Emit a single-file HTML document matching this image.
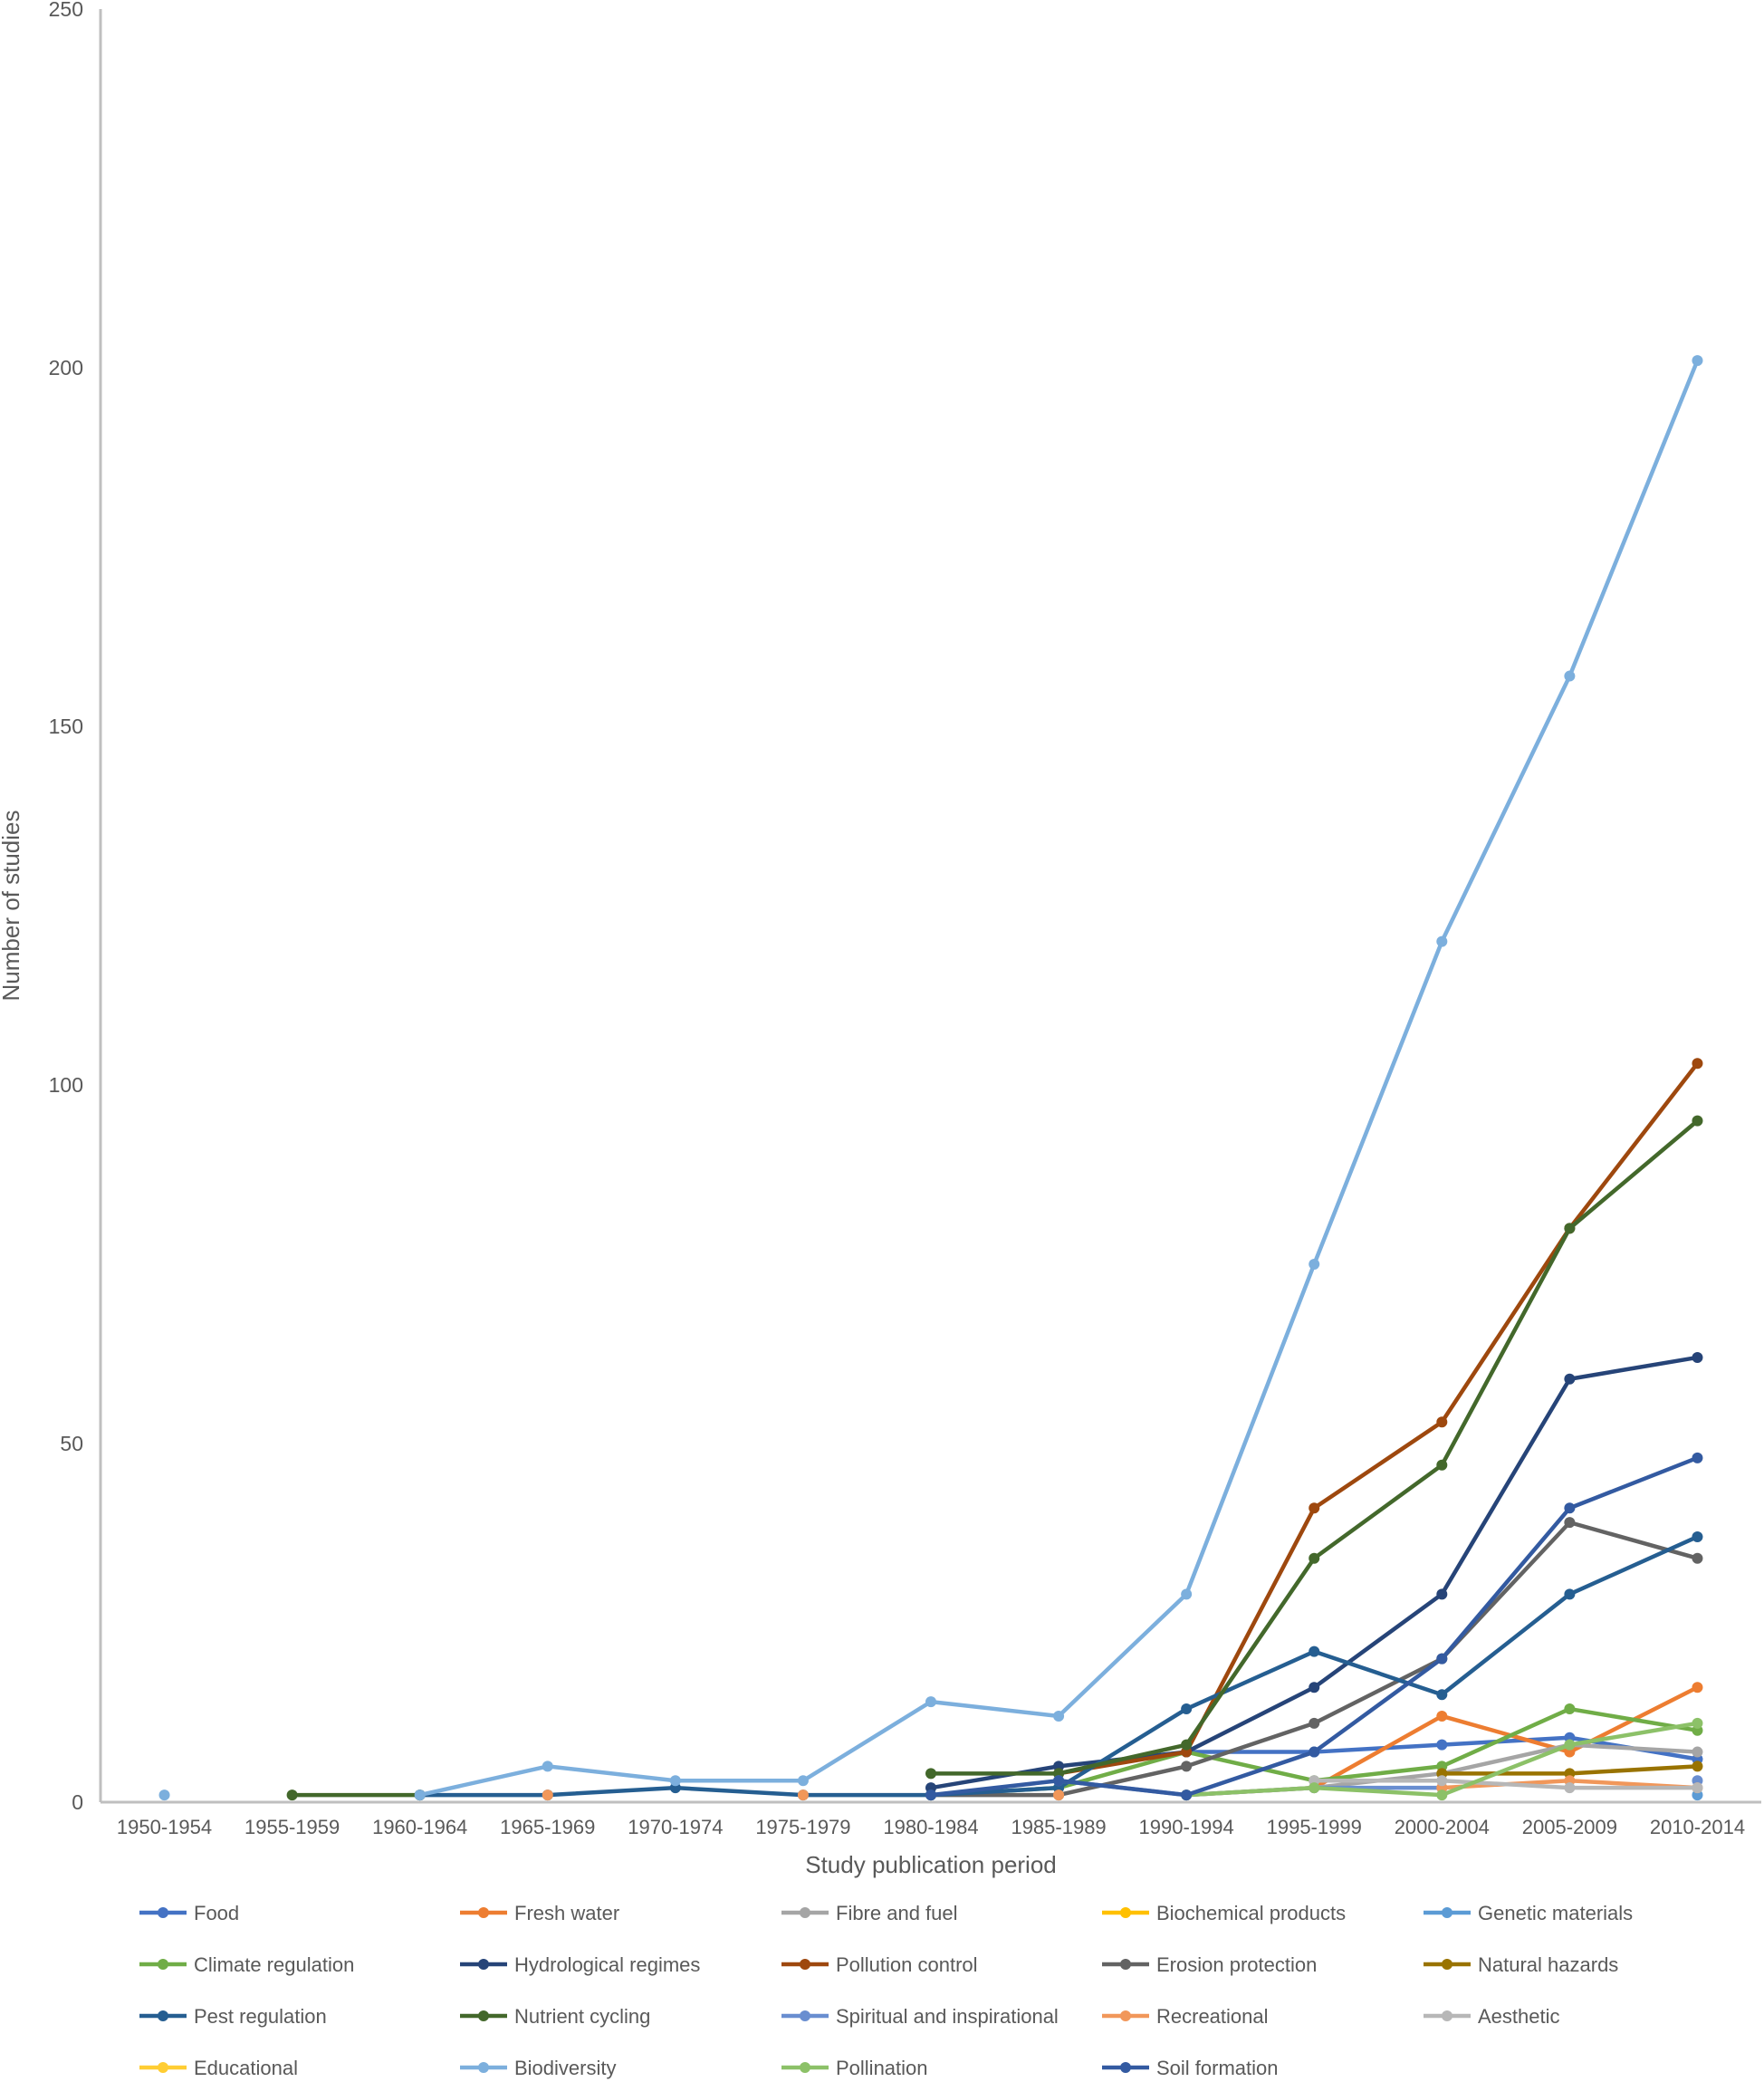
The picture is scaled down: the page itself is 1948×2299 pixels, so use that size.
<!DOCTYPE html>
<html><head><meta charset="utf-8"><style>
html,body{margin:0;padding:0;background:#fff;}
svg{display:block;font-family:"Liberation Sans",sans-serif;}
</style></head><body>
<svg id="chart" width="1948" height="2299" viewBox="0 0 1948 2299" xmlns="http://www.w3.org/2000/svg">
<rect width="1948" height="2299" fill="#fff"/>
<g id="axes"></g><g id="series"></g><g id="legend"></g>
</svg>
<script>
const categories = ["1950-1954","1955-1959","1960-1964","1965-1969","1970-1974","1975-1979","1980-1984","1985-1989","1990-1994","1995-1999","2000-2004","2005-2009","2010-2014"];
const yTicks = [0,50,100,150,200,250];
const N = null;
const food = [N,N,N,N,N,N,N,N,7,7,8,9,6];
const freshWater = [N,N,N,N,N,N,N,N,1,2,12,7,16];
const fibreFuel = [N,N,N,N,N,N,N,N,N,2,4,8,7];
const biochemical = [N,N,N,N,N,N,N,N,N,N,N,N,N];
const genetic = [N,N,N,N,N,N,N,N,N,N,N,N,1];
const climate = [N,N,N,N,N,N,1,2,7,3,5,13,10];
const hydro = [N,N,N,N,N,N,2,5,7,16,29,59,62];
const pollution = [N,N,N,N,N,N,N,4,7,41,53,80,103];
const erosion = [N,N,N,N,N,N,1,1,5,11,20,39,34];
const hazards = [N,N,N,N,N,N,N,N,N,N,4,4,5];
const pest = [N,N,1,1,2,1,1,2,13,21,15,29,37];
const nutrient = [N,1,1,N,N,N,4,4,8,34,47,80,95];
const spiritual = [N,N,N,N,N,N,N,3,1,2,2,N,3];
const recreational = [N,N,N,1,N,1,N,1,N,N,2,3,2];
const aesthetic = [N,N,N,N,N,N,N,N,N,3,3,2,2];
const educational = [N,N,N,N,N,N,N,N,N,N,N,N,N];
const biodiversity = [1,N,1,5,3,3,14,12,29,75,120,157,201];
const pollination = [N,N,N,N,N,N,N,N,1,2,1,8,11];
const soil = [N,N,N,N,N,N,1,3,1,7,20,41,48];
const seriesNames = ["Food","Fresh water","Fibre and fuel","Biochemical products","Genetic materials","Climate regulation","Hydrological regimes","Pollution control","Erosion protection","Natural hazards","Pest regulation","Nutrient cycling","Spiritual and inspirational","Recreational","Aesthetic","Educational","Biodiversity","Pollination","Soil formation"];
const seriesValues = [food,freshWater,fibreFuel,biochemical,genetic,climate,hydro,pollution,erosion,hazards,pest,nutrient,spiritual,recreational,aesthetic,educational,biodiversity,pollination,soil];
const colors = ["#4472C4","#ED7D31","#A5A5A5","#FFC000","#5B9BD5","#70AD47","#264478","#9E480E","#636363","#997300","#255E91","#43682B","#698ED0","#F1975A","#B7B7B7","#FFCD33","#7CAFDD","#8CC168","#335AA1"];

const NS="http://www.w3.org/2000/svg";
const X0=111, X1=1945, Y0=1990, YTOP=10, YMAX=250;
const step=(X1-X0)/categories.length;
function xPos(i){return X0+step*(i+0.5);}
function yPos(v){return Y0-(v/YMAX)*(Y0-YTOP);}
function mk(tag,attrs,parent){const e=document.createElementNS(NS,tag);for(const k in attrs)e.setAttribute(k,attrs[k]);parent.appendChild(e);return e;}
const axes=document.getElementById('axes');
const yAxis=mk('line',{x1:X0,y1:YTOP,x2:X0,y2:Y0,stroke:'#BFBFBF','stroke-width':3},axes);


const xAxis=mk('line',{x1:X0,y1:Y0,x2:X1,y2:Y0,stroke:'#BFBFBF','stroke-width':3},axes);


yTicks.forEach(t=>{
 const tx=mk('text',{x:92,y:yPos(t)+8,'text-anchor':'end','font-size':23,fill:'#595959'},axes);
 tx.textContent=t;
 
 
});
categories.forEach((c,i)=>{
 const tx=mk('text',{x:xPos(i),y:2025,'text-anchor':'middle','font-size':22,fill:'#595959'},axes);
 tx.textContent=c;
 
 
});
const xt=mk('text',{x:1028,y:2068,'text-anchor':'middle','font-size':26,fill:'#595959'},axes);
xt.textContent='Study publication  period';


const yt=mk('text',{x:0,y:0,'text-anchor':'middle','font-size':26,fill:'#595959',transform:'translate(21,1000) rotate(-90)'},axes);
yt.textContent='Number of studies';



const sg=document.getElementById('series');
seriesValues.forEach((vals,si)=>{
 const g=mk('g',{},sg);
 
 
 let seg=[];
 const flush=()=>{if(seg.length>1){const p=mk('polyline',{points:seg.join(' '),fill:'none',stroke:colors[si],'stroke-width':4.5,'stroke-linejoin':'round'},g);}seg=[];};
 vals.forEach((v,i)=>{if(v===null){flush();}else seg.push(xPos(i)+','+yPos(v));});
 flush();
 vals.forEach((v,i)=>{if(v!==null){const c=mk('circle',{cx:xPos(i),cy:yPos(v),r:6,fill:colors[si]},g);}});
});

const lg=document.getElementById('legend');
const colX=[154,508,863,1217,1572], rowY=[2112,2169,2226,2283];
seriesNames.forEach((n,i)=>{
 const x=colX[i%5], y=rowY[Math.floor(i/5)];
 const g=mk('g',{},lg);
 
 
 mk('line',{x1:x,y1:y,x2:x+52,y2:y,stroke:colors[i],'stroke-width':4.5},g);
 mk('circle',{cx:x+26,cy:y,r:6,fill:colors[i]},g);
 const t=mk('text',{x:x+60,y:y+8,'font-size':22,fill:'#595959'},g);
 t.textContent=n;
});
</script>
</body></html>
